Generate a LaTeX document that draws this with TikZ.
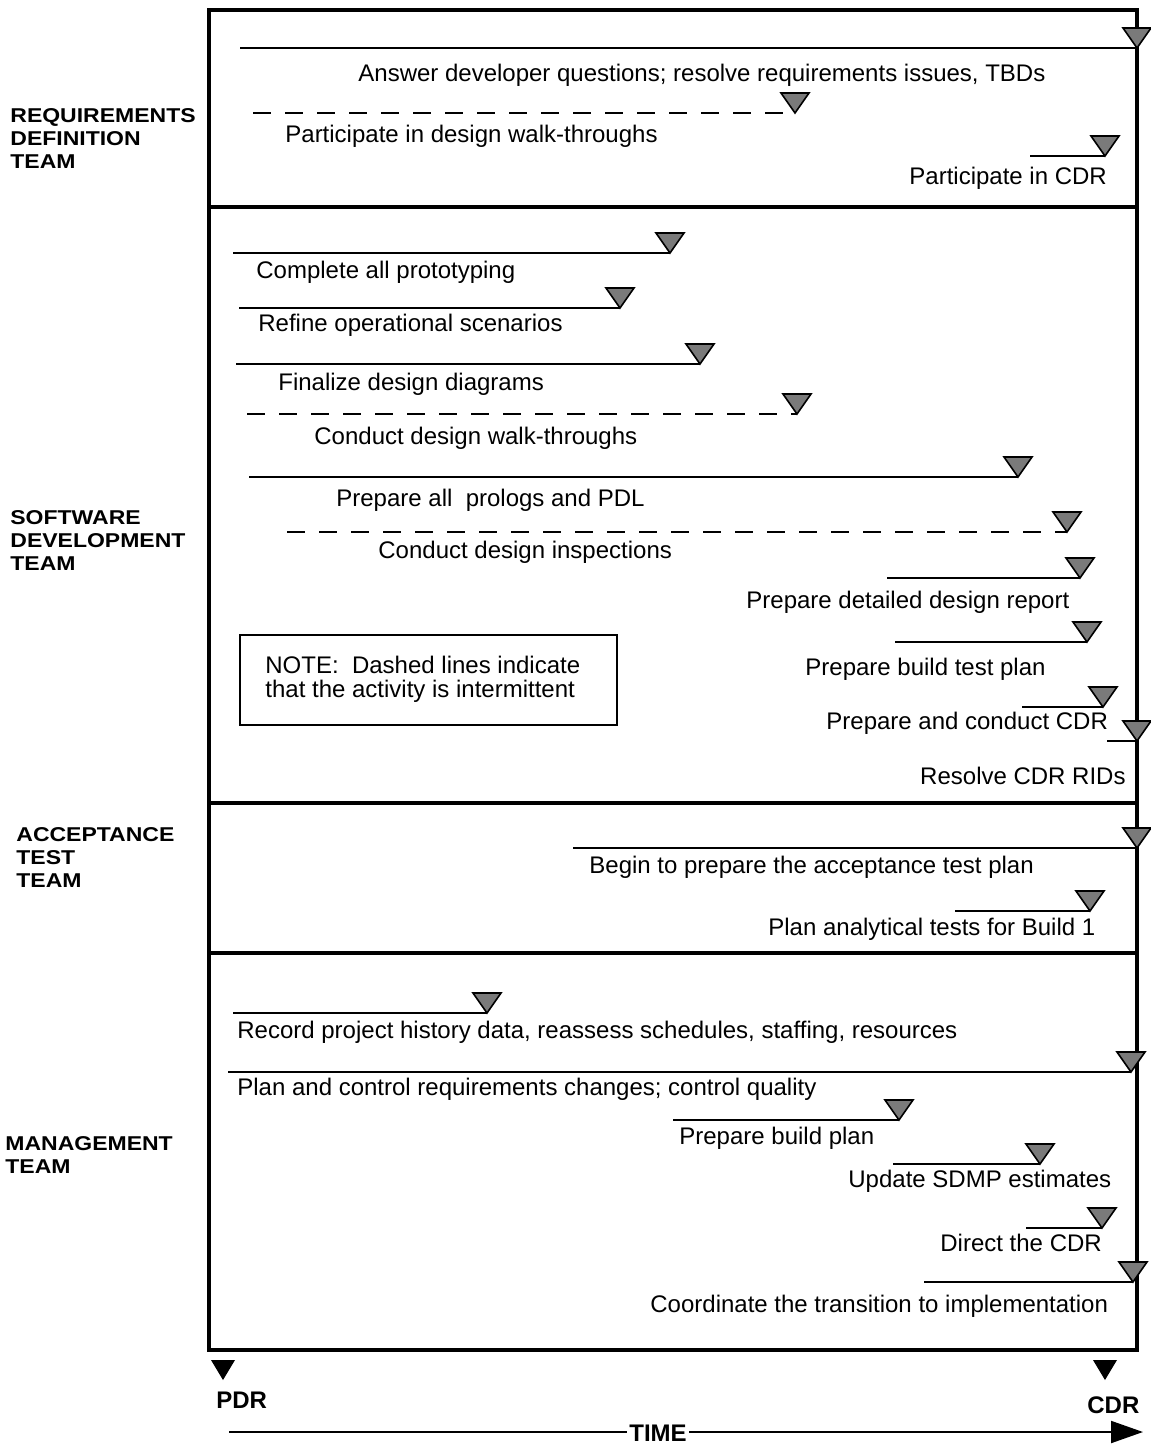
\documentclass[tikz,border=0pt]{standalone}
\usepackage{fontspec}
\setmainfont{Liberation Sans}
\newfontfamily\teamfont[FakeStretch=1.15]{Liberation Sans}
\usetikzlibrary{arrows.meta}
\definecolor{tri}{RGB}{122,122,122}
\tikzset{
  frame/.style={line width=2.4pt},
  solidbar/.style={line width=1pt},
  dashbar/.style={line width=1pt, dash pattern=on 9pt off 7pt},
  milestone/.style={fill=tri, draw=black, line width=0.8pt, line join=miter},
  lbl/.style={font=\fontsize{12}{14}\selectfont, inner sep=0pt, anchor=base west},
  team/.style={font=\teamfont\bfseries\fontsize{10}{11.5}\selectfont, inner sep=0pt, anchor=north west, align=left},
  big/.style={font=\bfseries\fontsize{12}{14}\selectfont, inner sep=0pt},
}
\newcommand\actbar[5]{%
  \coordinate (#1s) at (#3,#5);
  \coordinate (#1e) at (#4,#5);
  \draw[#2] (#1s) -- (#1e);
  \filldraw[milestone] (#1e) -- ++(-14,-20) -- ++(28,0) -- cycle;}
\begin{document}
\begin{tikzpicture}[x=0.5pt,y=-0.5pt]
\useasboundingbox (0,0) rectangle (1151,1447);
% frame
\draw[frame] (209,10) rectangle (1137,1350);
\draw[frame] (209,207) -- (1137,207);
\draw[frame] (209,803) -- (1137,803);
\draw[frame] (209,953) -- (1137,953);
% team labels
\node[team] (tReq) at (10,108) {REQUIREMENTS\\DEFINITION\\TEAM};
\node[team] (tSw) at (10,510) {SOFTWARE\\DEVELOPMENT\\TEAM};
\node[team] (tAt) at (16,827) {ACCEPTANCE\\TEST\\TEAM};
\node[team] (tMg) at (5,1136) {MANAGEMENT\\TEAM};
% requirements definition team
\actbar{a1}{solidbar}{240}{1137}{48}
\node[lbl] (l1) at (358,81) {Answer developer questions; resolve requirements issues, TBDs};
\actbar{a2}{dashbar}{253}{795}{113}
\node[lbl] (l2) at (285,142) {Participate in design walk-throughs};
\actbar{a3}{solidbar}{1030}{1105}{156}
\node[lbl] (l3) at (909,184) {Participate in CDR};
% software development team
\actbar{a4}{solidbar}{233}{670}{253}
\node[lbl] (l4) at (256,278) {Complete all prototyping};
\actbar{a5}{solidbar}{239}{620}{308}
\node[lbl] (l5) at (258,331) {Refine operational scenarios};
\actbar{a6}{solidbar}{236}{700}{364}
\node[lbl] (l6) at (278,390) {Finalize design diagrams};
\actbar{a7}{dashbar}{247}{797}{414}
\node[lbl] (l7) at (314,444) {Conduct design walk-throughs};
\actbar{a8}{solidbar}{249}{1018}{477}
\node[lbl] (l8) at (336,506) {Prepare all\ \ prologs and PDL};
\actbar{a9}{dashbar}{287}{1067}{532}
\node[lbl] (l9) at (378,558) {Conduct design inspections};
\actbar{a10}{solidbar}{887}{1080}{578}
\node[lbl] (l10) at (746,608) {Prepare detailed design report};
\actbar{a11}{solidbar}{895}{1087}{642}
\node[lbl] (l11) at (805,675) {Prepare build test plan};
\actbar{a12}{solidbar}{1022}{1103}{707}
\node[lbl] (l12) at (826,729) {Prepare and conduct CDR};
\actbar{a13}{solidbar}{1107}{1137}{741}
\node[lbl, anchor=base east] (l13) at (1126,784) {Resolve CDR RIDs};
\node[draw, line width=1pt, minimum width=188.5pt, minimum height=45pt, anchor=north west] (note) at (239,634) {};
\node[lbl] (n1) at (265,673) {NOTE:\ \ Dashed lines indicate};
\node[lbl] (n2) at (265,697) {that the activity is intermittent};
% acceptance test team
\actbar{a14}{solidbar}{573}{1137}{848}
\node[lbl] (l14) at (589,873) {Begin to prepare the acceptance test plan};
\actbar{a15}{solidbar}{955}{1090}{911}
\node[lbl] (l15) at (768,935) {Plan analytical tests for Build 1};
% management team
\actbar{a16}{solidbar}{233}{487}{1013}
\node[lbl] (l16) at (237,1038) {Record project history data, reassess schedules, staffing, resources};
\actbar{a17}{solidbar}{228}{1131}{1072}
\node[lbl] (l17) at (237,1095) {Plan and control requirements changes; control quality};
\actbar{a18}{solidbar}{673}{899}{1120}
\node[lbl] (l18) at (679,1144) {Prepare build plan};
\actbar{a19}{solidbar}{893}{1040}{1164}
\node[lbl] (l19) at (848,1187) {Update SDMP estimates};
\actbar{a20}{solidbar}{1026}{1102}{1228}
\node[lbl] (l20) at (940,1251) {Direct the CDR};
\actbar{a21}{solidbar}{924}{1133}{1282}
\node[lbl] (l21) at (650,1312) {Coordinate the transition to implementation};
% milestones
\coordinate (pdrm) at (223,1380);
\coordinate (cdrm) at (1105,1380);
\fill (pdrm) -- ++(-12,-20) -- ++(24,0) -- cycle;
\fill (cdrm) -- ++(-12,-20) -- ++(24,0) -- cycle;
\node[big, anchor=base west] (pdr) at (216,1408) {PDR};
\node[big, anchor=base west] (cdr) at (1087,1413) {CDR};
% time arrow
\coordinate (ts) at (229,1432);
\coordinate (te) at (1143,1432);
\draw[line width=1pt, -{Triangle[length=16pt, width=11pt]}] (ts) -- (te);
\node[big, fill=white, inner xsep=1pt] (time) at (658,1433) {TIME};
\end{tikzpicture}
\end{document}
